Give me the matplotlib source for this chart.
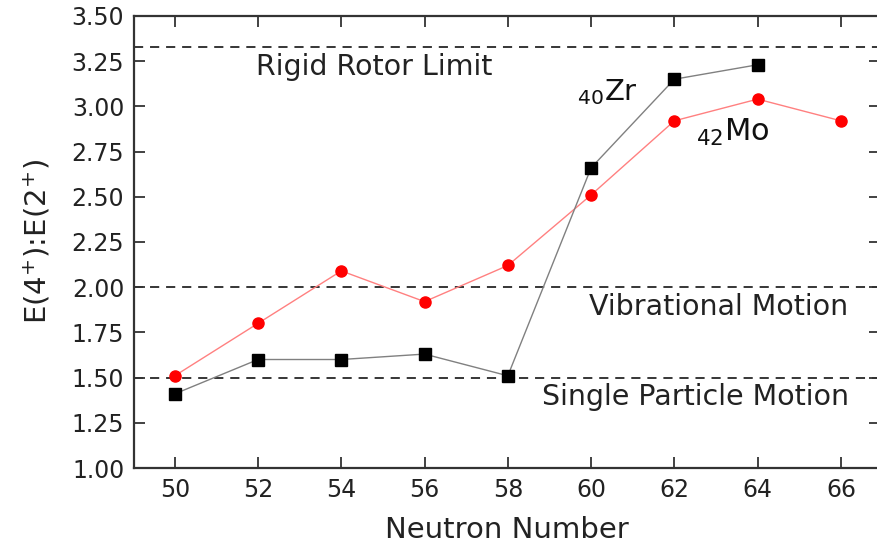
import matplotlib
matplotlib.use("Agg")
import matplotlib.pyplot as plt

plt.rcParams['font.family'] = ['DejaVu Sans']
plt.rcParams['mathtext.fontset'] = 'dejavusans'

# neutron numbers and E(4+)/E(2+) ratios
n_zr = [50, 52, 54, 56, 58, 60, 62, 64]
r_zr = [1.41, 1.60, 1.60, 1.63, 1.51, 2.66, 3.15, 3.23]
n_mo = [50, 52, 54, 56, 58, 60, 62, 64, 66]
r_mo = [1.51, 1.80, 2.09, 1.92, 2.12, 2.51, 2.92, 3.04, 2.92]

limits = [3.33, 2.0, 1.5]
limit_names = ["Rigid Rotor Limit", "Vibrational Motion", "Single Particle Motion"]

fig = plt.figure(figsize=(8.78, 5.44), dpi=100)
# the right frame edge sits just past the figure border, as in the source image
ax = fig.add_axes([0.1526, 0.1397, 0.8497, 0.831])

for y in limits:
    ax.axhline(y, color='black', linestyle=(0, (6, 4.5)), linewidth=1.1, zorder=1)

ax.plot(n_zr, r_zr, color='#808080', linewidth=1, marker='s', markersize=8,
        markerfacecolor='black', markeredgecolor='black', zorder=3)
ax.plot(n_mo, r_mo, color='#ff8080', linewidth=1, marker='o', markersize=8,
        markerfacecolor='red', markeredgecolor='red', zorder=2)

ax.text(51.94, 3.22, limit_names[0], fontsize=20.5, va='center', color='#222222')
ax.text(59.95, 1.89, limit_names[1], fontsize=20.5, va='center', color='#222222')
ax.text(58.82, 1.39, limit_names[2], fontsize=20.5, va='center', color='#222222')
ax.text(59.66, 3.035, r'$_{40}$Zr', fontsize=21, color='#111111')
ax.text(62.52, 2.81, r'$_{42}$Mo', fontsize=22, color='#111111')

ax.set_xlim(49.02, 66.94)
ax.set_ylim(1.0, 3.5)
ax.set_xticks(range(50, 67, 2))
ax.set_yticks([1.0, 1.25, 1.5, 1.75, 2.0, 2.25, 2.5, 2.75, 3.0, 3.25, 3.5])
ax.yaxis.set_major_formatter(matplotlib.ticker.FormatStrFormatter('%.2f'))
ax.tick_params(direction='in', length=8, width=1.3, labelsize=17, pad=7,
               top=True, right=True, colors='#333333', labelcolor='#222222')
for s in ax.spines.values():
    s.set_linewidth(1.6)
    s.set_color('#333333')
ax.spines['right'].set_visible(False)

ax.set_xlabel("Neutron Number", fontsize=21, labelpad=10, color='#222222')
ax.set_ylabel(r"E(4$^{+}$):E(2$^{+}$)", fontsize=21, labelpad=14, color='#222222')

fig.savefig("out.png", dpi=100)
